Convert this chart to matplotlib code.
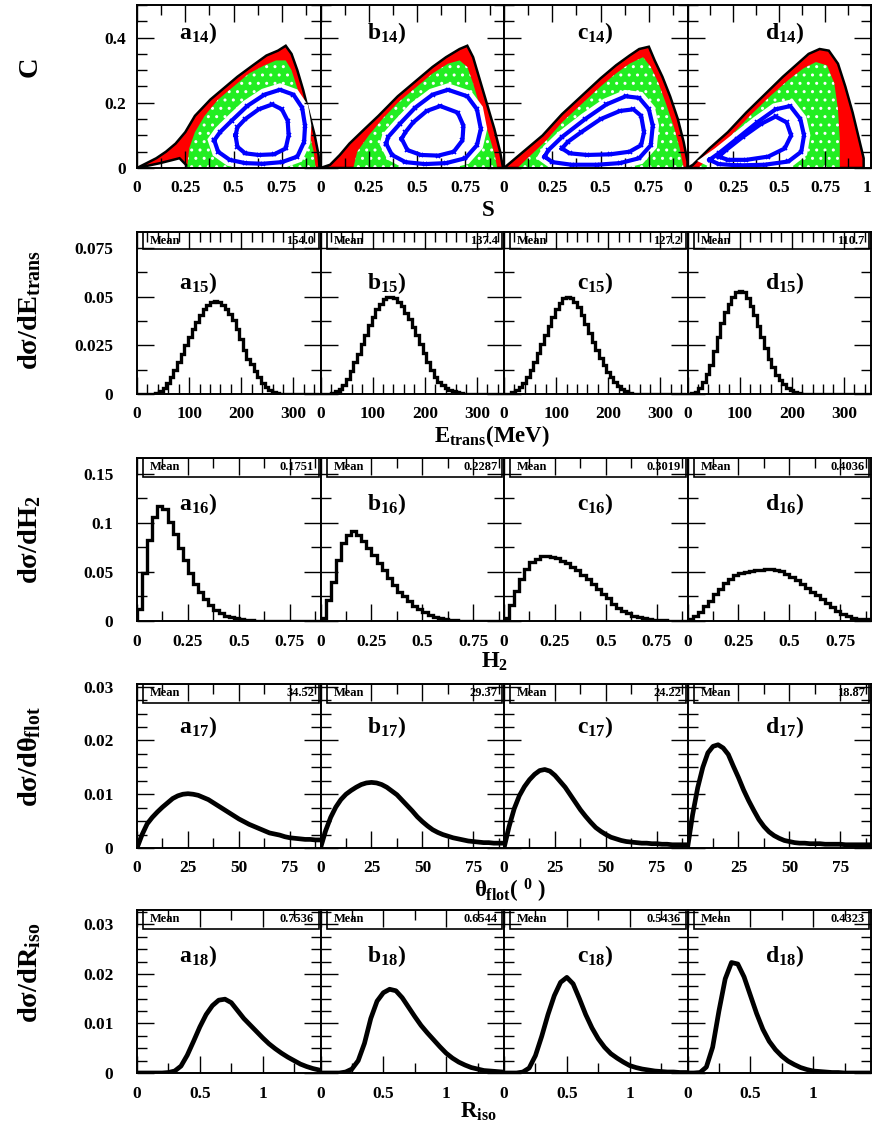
import numpy as np
import matplotlib
matplotlib.use('Agg')
import matplotlib.pyplot as plt
from matplotlib.patches import Rectangle
from matplotlib.ticker import MultipleLocator, FuncFormatter

plt.rcParams['font.family'] = ['Liberation Serif', 'DejaVu Serif']
plt.rcParams['font.weight'] = 'bold'
plt.rcParams['mathtext.fontset'] = 'custom'
plt.rcParams['mathtext.rm'] = 'Liberation Serif:bold'
plt.rcParams['mathtext.bf'] = 'Liberation Serif:bold'
plt.rcParams['mathtext.it'] = 'Liberation Serif:bold'
plt.rcParams['axes.linewidth'] = 1.4
plt.rcParams['hatch.linewidth'] = 1.0

letters = ['a', 'b', 'c', 'd']

# ---- row 14 : C versus S (density bands) ----
outer_a = [(0.0, 0.0), (0.05, 0.015), (0.10, 0.03), (0.15, 0.05), (0.20, 0.075), (0.25, 0.11), (0.30, 0.16),
           (0.38, 0.21), (0.45, 0.245), (0.52, 0.28), (0.60, 0.315), (0.67, 0.345), (0.73, 0.36), (0.77, 0.375),
           (0.80, 0.35), (0.83, 0.30), (0.86, 0.24), (0.89, 0.17), (0.92, 0.10), (0.94, 0.04), (0.945, 0.0),
           (0.27, 0.0), (0.22, 0.03), (0.12, 0.015)]
green_a = [(0.26, 0.0), (0.27, 0.06), (0.30, 0.11), (0.35, 0.16), (0.42, 0.21), (0.50, 0.25), (0.58, 0.29),
           (0.66, 0.315), (0.72, 0.33), (0.77, 0.33), (0.80, 0.30), (0.83, 0.245), (0.86, 0.18), (0.89, 0.11),
           (0.915, 0.05), (0.925, 0.0)]
ring1_a = [(0.40, 0.085), (0.42, 0.05), (0.48, 0.025), (0.56, 0.015), (0.65, 0.013), (0.75, 0.018), (0.83, 0.035),
           (0.865, 0.08), (0.87, 0.13), (0.855, 0.185), (0.81, 0.225), (0.74, 0.24), (0.66, 0.225), (0.57, 0.19),
           (0.49, 0.145), (0.43, 0.11), (0.40, 0.085)]
ring2_a = [(0.51, 0.10), (0.52, 0.065), (0.56, 0.045), (0.63, 0.04), (0.71, 0.042), (0.77, 0.06), (0.785, 0.10),
           (0.78, 0.145), (0.75, 0.18), (0.70, 0.195), (0.63, 0.18), (0.56, 0.15), (0.52, 0.125), (0.51, 0.10)]

outer_b = [(0.0, 0.0), (0.05, 0.01), (0.10, 0.04), (0.15, 0.075), (0.22, 0.115), (0.30, 0.16), (0.40, 0.22),
           (0.50, 0.27), (0.58, 0.31), (0.65, 0.34), (0.72, 0.365), (0.76, 0.375), (0.79, 0.34), (0.82, 0.28),
           (0.86, 0.20), (0.90, 0.12), (0.93, 0.05), (0.945, 0.0)]
green_b = [(0.17, 0.0), (0.19, 0.05), (0.25, 0.10), (0.32, 0.15), (0.40, 0.20), (0.50, 0.25), (0.58, 0.29),
           (0.66, 0.32), (0.72, 0.33), (0.76, 0.31), (0.79, 0.26), (0.83, 0.18), (0.87, 0.105), (0.90, 0.045),
           (0.915, 0.0)]
ring1_b = [(0.34, 0.075), (0.37, 0.04), (0.44, 0.018), (0.54, 0.012), (0.65, 0.015), (0.75, 0.03), (0.81, 0.07),
           (0.83, 0.12), (0.81, 0.18), (0.76, 0.22), (0.66, 0.24), (0.58, 0.225), (0.49, 0.185), (0.41, 0.135),
           (0.35, 0.095), (0.34, 0.075)]
ring2_b = [(0.42, 0.09), (0.45, 0.055), (0.52, 0.04), (0.61, 0.038), (0.69, 0.05), (0.735, 0.085), (0.74, 0.13),
           (0.71, 0.17), (0.62, 0.19), (0.55, 0.175), (0.48, 0.14), (0.44, 0.11), (0.42, 0.09)]

outer_c = [(0.0, 0.0), (0.02, 0.01), (0.10, 0.05), (0.20, 0.10), (0.30, 0.165), (0.40, 0.22), (0.50, 0.275),
           (0.58, 0.315), (0.65, 0.345), (0.70, 0.365), (0.75, 0.372), (0.78, 0.33), (0.82, 0.28), (0.86, 0.22),
           (0.90, 0.15), (0.93, 0.08), (0.95, 0.02), (0.95, 0.0)]
green_c = [(0.07, 0.0), (0.14, 0.04), (0.22, 0.085), (0.30, 0.14), (0.40, 0.195), (0.50, 0.25), (0.58, 0.29),
           (0.65, 0.32), (0.72, 0.34), (0.76, 0.31), (0.80, 0.26), (0.84, 0.195), (0.88, 0.125), (0.91, 0.06),
           (0.93, 0.0)]
ring1_c = [(0.21, 0.035), (0.25, 0.018), (0.35, 0.01), (0.48, 0.01), (0.60, 0.015), (0.70, 0.03), (0.76, 0.07),
           (0.77, 0.13), (0.75, 0.18), (0.70, 0.215), (0.63, 0.22), (0.53, 0.195), (0.42, 0.15), (0.30, 0.095),
           (0.23, 0.055), (0.21, 0.035)]
ring2_c = [(0.30, 0.06), (0.34, 0.045), (0.43, 0.04), (0.55, 0.042), (0.65, 0.05), (0.71, 0.07), (0.725, 0.11),
           (0.71, 0.16), (0.67, 0.18), (0.60, 0.175), (0.50, 0.15), (0.40, 0.11), (0.33, 0.08), (0.30, 0.06)]

outer_d = [(0.0, 0.0), (0.03, 0.01), (0.12, 0.06), (0.22, 0.11), (0.32, 0.17), (0.42, 0.225), (0.52, 0.28),
           (0.60, 0.32), (0.66, 0.35), (0.72, 0.365), (0.77, 0.36), (0.82, 0.32), (0.86, 0.25), (0.90, 0.17),
           (0.93, 0.10), (0.96, 0.03), (0.96, 0.0)]
green_d = [(0.06, 0.0), (0.13, 0.04), (0.23, 0.095), (0.34, 0.16), (0.45, 0.22), (0.55, 0.27), (0.63, 0.305),
           (0.70, 0.325), (0.76, 0.315), (0.80, 0.26), (0.82, 0.18), (0.83, 0.09), (0.83, 0.0)]
ring1_d = [(0.12, 0.025), (0.17, 0.012), (0.28, 0.008), (0.42, 0.01), (0.55, 0.02), (0.62, 0.05), (0.635, 0.10),
           (0.615, 0.15), (0.56, 0.19), (0.48, 0.18), (0.38, 0.14), (0.27, 0.09), (0.17, 0.045), (0.12, 0.025)]
ring2_d = [(0.17, 0.035), (0.22, 0.025), (0.32, 0.025), (0.44, 0.035), (0.53, 0.06), (0.565, 0.10), (0.54, 0.14),
           (0.48, 0.158), (0.40, 0.135), (0.30, 0.095), (0.21, 0.055), (0.17, 0.035)]

# ---- row 15 : E_trans, 7 MeV bins from 0 to 350 ----
etrans_edges = np.arange(0, 351, 7)
etrans_a = [0, 0, 0, 0, 0.0002, 0.0006, 0.0015, 0.0033, 0.0058, 0.0088,
            0.0122, 0.0162, 0.0205, 0.0252, 0.0293, 0.0333, 0.0372, 0.0405, 0.0435, 0.0458,
            0.0475, 0.048, 0.0475, 0.046, 0.0438, 0.041, 0.0378, 0.0335, 0.0282, 0.0228,
            0.018, 0.0152, 0.0118, 0.0085, 0.0058, 0.0038, 0.0023, 0.0012, 0.0006, 0.0002,
            0, 0, 0, 0, 0, 0, 0, 0, 0, 0]
etrans_b = [0, 0, 0.0002, 0.0006, 0.0014, 0.0028, 0.0048, 0.0078, 0.0118, 0.0163,
            0.0208, 0.0255, 0.0305, 0.0355, 0.0398, 0.0435, 0.0465, 0.0487, 0.0498, 0.050,
            0.0492, 0.0475, 0.045, 0.0418, 0.0385, 0.0345, 0.0303, 0.0258, 0.021, 0.0163,
            0.0122, 0.0088, 0.0062, 0.0045, 0.0033, 0.0022, 0.0014, 0.0009, 0.0005, 0.0002,
            0, 0, 0, 0, 0, 0, 0, 0, 0, 0]
etrans_c = [0, 0.0002, 0.0008, 0.002, 0.0036, 0.0058, 0.0088, 0.0124, 0.0165, 0.021,
            0.0258, 0.0305, 0.0352, 0.0395, 0.0435, 0.0468, 0.0492, 0.050, 0.0494, 0.0475,
            0.0446, 0.0408, 0.0362, 0.0315, 0.0268, 0.0225, 0.0185, 0.0148, 0.0115, 0.0085,
            0.006, 0.004, 0.0024, 0.0013, 0.0006, 0.0002, 0, 0, 0, 0,
            0, 0, 0, 0, 0, 0, 0, 0, 0, 0]
etrans_d = [0, 0.0003, 0.0012, 0.003, 0.0062, 0.0102, 0.015, 0.0222, 0.0295, 0.0365,
            0.042, 0.0465, 0.050, 0.0522, 0.053, 0.0522, 0.0495, 0.0455, 0.0405, 0.035,
            0.0295, 0.0235, 0.018, 0.0138, 0.010, 0.0072, 0.005, 0.0033, 0.002, 0.0011,
            0.0005, 0.0002, 0, 0, 0, 0, 0, 0, 0, 0,
            0, 0, 0, 0, 0, 0, 0, 0, 0, 0]
etrans_mean = ['154.0', '137.4', '127.2', '110.7']

# ---- row 16 : H2, bins of 0.025 from 0 to 0.9 ----
h2_edges = np.linspace(0, 0.9, 37)
h2_a = [0.012, 0.049, 0.083, 0.106, 0.117, 0.114, 0.101, 0.089, 0.074, 0.062,
        0.049, 0.038, 0.030, 0.022, 0.016, 0.011, 0.0078, 0.0054, 0.0037, 0.0027,
        0.0017, 0.001, 0.0006, 0.0003, 0.0002, 0, 0, 0, 0, 0,
        0, 0, 0, 0, 0, 0]
h2_b = [0.003, 0.021, 0.040, 0.062, 0.079, 0.088, 0.092, 0.088, 0.081, 0.074,
        0.067, 0.059, 0.052, 0.0435, 0.037, 0.030, 0.025, 0.020, 0.0153, 0.012,
        0.0088, 0.0065, 0.0045, 0.003, 0.002, 0.0012, 0.0007, 0.0004, 0.0002, 0,
        0, 0, 0, 0, 0, 0]
h2_c = [0.003, 0.016, 0.031, 0.043, 0.053, 0.060, 0.0635, 0.066, 0.066, 0.0655,
        0.064, 0.0615, 0.059, 0.0555, 0.0515, 0.047, 0.0425, 0.0375, 0.0325, 0.028,
        0.0235, 0.017, 0.0135, 0.0105, 0.0078, 0.0055, 0.0038, 0.0027, 0.002, 0.0014,
        0.001, 0.0007, 0.0005, 0.0003, 0.0002, 0.0001]
h2_d = [0.002, 0.005, 0.0095, 0.015, 0.0205, 0.027, 0.033, 0.0385, 0.043, 0.0465,
        0.0485, 0.050, 0.0508, 0.0515, 0.052, 0.0527, 0.053, 0.052, 0.0505, 0.048,
        0.045, 0.042, 0.038, 0.034, 0.030, 0.026, 0.022, 0.018, 0.014, 0.0105,
        0.0075, 0.0048, 0.0033, 0.0025, 0.002, 0.0017]
h2_mean = ['0.1751', '0.2287', '0.3019', '0.4036']

# ---- row 17 : theta_flot, sampled every 2.5 degrees ----
theta_x = np.arange(0, 91, 2.5)
theta_a = [0, 0.0025, 0.0045, 0.0057, 0.0067, 0.0076, 0.0084, 0.0092, 0.0097, 0.0100,
           0.0101, 0.0100, 0.0098, 0.0094, 0.0090, 0.0084, 0.0078, 0.0072, 0.0066, 0.0060,
           0.0054, 0.0049, 0.0044, 0.0040, 0.0036, 0.0032, 0.0028, 0.0026, 0.0024, 0.0021,
           0.0019, 0.0018, 0.0017, 0.0016, 0.0016, 0.0015, 0.0015]
theta_b = [0, 0.0032, 0.0057, 0.0076, 0.0090, 0.0100, 0.0107, 0.0113, 0.0118, 0.0121,
           0.0122, 0.0121, 0.0118, 0.0113, 0.0106, 0.0099, 0.0089, 0.0079, 0.0069, 0.0058,
           0.0049, 0.0041, 0.0034, 0.0029, 0.0025, 0.0022, 0.0019, 0.0017, 0.0015, 0.0013,
           0.0012, 0.0011, 0.0010, 0.0010, 0.0009, 0.0009, 0.0009]
theta_c = [0, 0.0040, 0.0073, 0.0097, 0.0114, 0.0127, 0.0137, 0.0144, 0.0146, 0.0143,
           0.0135, 0.0124, 0.0113, 0.0099, 0.0085, 0.0071, 0.0059, 0.0048, 0.0038, 0.0031,
           0.0025, 0.0020, 0.0017, 0.0014, 0.0012, 0.0011, 0.0010, 0.0009, 0.0009, 0.0008,
           0.0008, 0.0007, 0.0007, 0.0006, 0.0006, 0.0006, 0.0006]
theta_d = [0, 0.0062, 0.0112, 0.0150, 0.0177, 0.0189, 0.0192, 0.0186, 0.0174, 0.0152,
           0.0131, 0.0108, 0.0088, 0.0070, 0.0053, 0.0040, 0.0030, 0.0023, 0.0018, 0.0014,
           0.0012, 0.0010, 0.0009, 0.0009, 0.0008, 0.0008, 0.0008, 0.0007, 0.0007, 0.0007,
           0.0007, 0.0006, 0.0006, 0.0006, 0.0006, 0.0006, 0.0006]
theta_mean = ['34.52', '29.37', '24.22', '18.87']

# ---- row 18 : R_iso, sampled every 0.05 ----
riso_x = np.arange(0, 1.46, 0.05)
riso_a = [0, 0, 0, 0, 0, 0.0001, 0.0004, 0.0014, 0.0036, 0.0064,
          0.0093, 0.0118, 0.0136, 0.0147, 0.0149, 0.0142, 0.0126, 0.0110, 0.0097, 0.0084,
          0.0071, 0.0059, 0.0049, 0.0040, 0.0032, 0.0025, 0.0018, 0.0013, 0.0009, 0.0006]
riso_b = [0, 0, 0, 0, 0.0002, 0.0008, 0.0025, 0.0060, 0.0110, 0.0145,
          0.0162, 0.0169, 0.0166, 0.0152, 0.0133, 0.0114, 0.0096, 0.0081, 0.0067, 0.0053,
          0.0040, 0.0030, 0.0022, 0.0016, 0.0011, 0.0008, 0.0005, 0.0004, 0.0003, 0.0002]
riso_c = [0, 0, 0, 0.0002, 0.0010, 0.0035, 0.0074, 0.0118, 0.0156, 0.0183,
          0.0193, 0.0180, 0.0150, 0.0118, 0.0091, 0.0069, 0.0052, 0.0039, 0.0030, 0.0022,
          0.0015, 0.0011, 0.0008, 0.0006, 0.0004, 0.0003, 0.0002, 0.0002, 0.0001, 0.0001]
riso_d = [0, 0, 0.0001, 0.0012, 0.0052, 0.0125, 0.0190, 0.0223, 0.0220, 0.0194,
          0.0157, 0.0120, 0.0088, 0.0064, 0.0047, 0.0034, 0.0024, 0.0017, 0.0011, 0.0007,
          0.0004, 0.0003, 0.0002, 0.0001, 0.0001, 0, 0, 0, 0, 0]
riso_mean = ['0.7536', '0.6544', '0.5436', '0.4323']

# ---- layout (pixels of the 872x1139 picture) ----
W, H = 872, 1139
col_left = [137, 320.5, 504, 687.5]
col_w = 183.5
row_top = [5, 232, 458, 684, 910]
row_h = [163, 162, 163, 164, 163]

fig = plt.figure(figsize=(W / 100, H / 100), dpi=100)


def make_axes(r, c):
    return fig.add_axes([col_left[c] / W, 1 - (row_top[r] + row_h[r]) / H, col_w / W, row_h[r] / H])


def style(ax, xlim, ylim, xmaj, xmin, ymaj, ymin, first, ypad=17):
    ax.set_xlim(*xlim)
    ax.set_ylim(*ylim)
    ax.xaxis.set_major_locator(MultipleLocator(xmaj))
    ax.xaxis.set_minor_locator(MultipleLocator(xmin))
    ax.yaxis.set_major_locator(MultipleLocator(ymaj))
    ax.yaxis.set_minor_locator(MultipleLocator(ymin))
    fmt = FuncFormatter(lambda v, p: '%g' % round(v, 6))
    ax.xaxis.set_major_formatter(fmt)
    ax.yaxis.set_major_formatter(fmt)
    ax.tick_params(which='both', direction='in', top=True, right=True, width=1.0)
    ax.tick_params(which='major', length=12, labelsize=12.5)
    ax.tick_params(axis='x', which='major', pad=9)
    ax.tick_params(axis='y', which='major', pad=ypad)
    ax.tick_params(which='minor', length=7)
    if not first:
        ax.tick_params(labelleft=False)


def stat_box(ax, value, h):
    ax.add_patch(Rectangle((0.035, 1 - h), 0.955, h, transform=ax.transAxes, fill=False,
                           edgecolor='black', lw=1.2, zorder=5))
    ax.text(0.07, 1 - h / 2, 'Mean', transform=ax.transAxes, fontsize=9, va='center', ha='left')
    ax.text(0.965, 1 - h / 2, value, transform=ax.transAxes, fontsize=9, va='center', ha='right')


lab_x = [0.33, 0.36, 0.50, 0.53]

# row 14 : scatter bands
outers = [outer_a, outer_b, outer_c, outer_d]
greens = [green_a, green_b, green_c, green_d]
rings1 = [ring1_a, ring1_b, ring1_c, ring1_d]
rings2 = [ring2_a, ring2_b, ring2_c, ring2_d]
top_axes = []
for i in range(4):
    ax = make_axes(0, i)
    o = np.array(outers[i])
    g = np.array(greens[i])
    r1 = np.array(rings1[i])
    r2 = np.array(rings2[i])
    ax.fill(o[:, 0], o[:, 1], facecolor='#ff0000', edgecolor='black', lw=1.8)
    ax.fill(g[:, 0], g[:, 1], facecolor='#22ee22', edgecolor='white', lw=0, hatch='..')
    ax.fill(r1[:, 0], r1[:, 1], facecolor='white', edgecolor='white', lw=9)
    ax.plot(r1[:, 0], r1[:, 1], color='#0000ff', lw=3, marker='x', ms=3, mew=1.2)
    ax.plot(r2[:, 0], r2[:, 1], color='#0000ff', lw=3, marker='x', ms=3, mew=1.2)
    style(ax, (0, 1.0 if i == 3 else 0.95), (0, 0.5), 0.25, 0.125, 0.2, 0.05, i == 0, ypad=8)
    ax.text(lab_x[i], 0.83, letters[i] + r'$_{\mathbf{14}}$)', transform=ax.transAxes,
            fontsize=17, ha='center', va='center')
    top_axes.append(ax)

# row 15 : E_trans
etrans = [etrans_a, etrans_b, etrans_c, etrans_d]
for i in range(4):
    ax = make_axes(1, i)
    ax.stairs(etrans[i], etrans_edges, color='black', lw=2.4)
    style(ax, (0, 352), (0, 0.0833), 100, 20, 0.025, 0.0125, i == 0)
    stat_box(ax, etrans_mean[i], 0.105)
    ax.text(lab_x[i], 0.685, letters[i] + r'$_{\mathbf{15}}$)', transform=ax.transAxes,
            fontsize=17, ha='center', va='center')

# row 16 : H2
h2 = [h2_a, h2_b, h2_c, h2_d]
for i in range(4):
    ax = make_axes(2, i)
    ax.stairs(h2[i], h2_edges, color='black', lw=2.4)
    style(ax, (0, 0.9), (0, 0.166), 0.25, 0.125, 0.05, 0.025, i == 0)
    stat_box(ax, h2_mean[i], 0.115)
    ax.text(lab_x[i], 0.72, letters[i] + r'$_{\mathbf{16}}$)', transform=ax.transAxes,
            fontsize=17, ha='center', va='center')

# row 17 : theta_flot
theta = [theta_a, theta_b, theta_c, theta_d]
for i in range(4):
    ax = make_axes(3, i)
    ax.plot(theta_x, theta[i], color='black', lw=3.4, solid_joinstyle='round')
    style(ax, (0, 90), (0, 0.0305), 25, 12.5, 0.01, 0.0025, i == 0)
    stat_box(ax, theta_mean[i], 0.115)
    ax.text(lab_x[i], 0.74, letters[i] + r'$_{\mathbf{17}}$)', transform=ax.transAxes,
            fontsize=17, ha='center', va='center')

# row 18 : R_iso
riso = [riso_a, riso_b, riso_c, riso_d]
for i in range(4):
    ax = make_axes(4, i)
    ax.plot(riso_x, riso[i], color='black', lw=3.4, solid_joinstyle='round')
    style(ax, (0, 1.46), (0, 0.0329), 0.5, 0.25, 0.01, 0.0025, i == 0)
    stat_box(ax, riso_mean[i], 0.115)
    ax.text(lab_x[i], 0.72, letters[i] + r'$_{\mathbf{18}}$)', transform=ax.transAxes,
            fontsize=17, ha='center', va='center')

# axis titles
ylabels = [('C', 67), (r'd$\sigma$/dE$_{\mathbf{trans}}$', 310), (r'd$\sigma$/dH$_{\mathbf{2}}$', 540),
           (r'd$\sigma$/d$\theta_{\mathbf{flot}}$', 757), (r'd$\sigma$/dR$_{\mathbf{iso}}$', 973)]
for txt, yp in ylabels:
    fig.text(30 / W, 1 - yp / H, txt, rotation=90, fontsize=20.5, ha='center', va='center')

xlabels = [('S', 488, 210), (r'E$_{\mathbf{trans}}$(MeV)', 492, 436), (r'H$_{\mathbf{2}}$', 495, 662),
           (r'$\theta_{\mathbf{flot}}$( $^{\mathbf{0}}$ )', 510, 891), (r'R$_{\mathbf{iso}}$', 478, 1112)]
for txt, xp, yp in xlabels:
    fig.text(xp / W, 1 - yp / H, txt, fontsize=16.5, ha='center', va='center')

# keep the last "1" of the top-right panel inside the picture
fig.canvas.draw()
for lab in top_axes[3].get_xticklabels():
    if lab.get_text() == '1':
        lab.set_horizontalalignment('right')

fig.savefig('out.png', dpi=100)
